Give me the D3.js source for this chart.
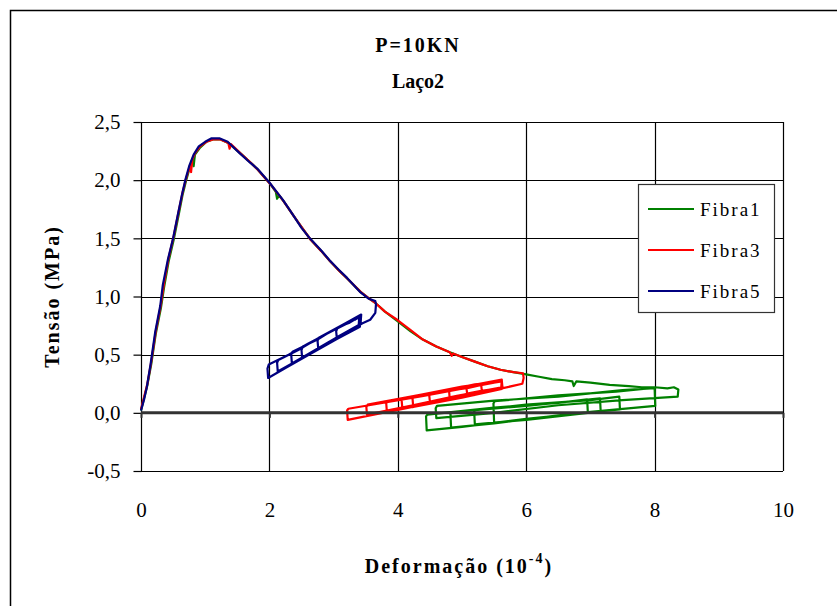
<!DOCTYPE html>
<html>
<head>
<meta charset="utf-8">
<script src="https://cdn.jsdelivr.net/npm/d3@7"></script>
<style>
  body { margin: 0; background: #fff; }
  text { font-family: "Liberation Serif", "Times New Roman", serif; fill: #000; }
</style>
</head>
<body>
<svg id="chart" width="837" height="606"></svg>
<script>
// data (strain in 1e-4, stress in MPa)
var seriesNames = ["Fibra1", "Fibra3", "Fibra5"];
var seriesColors = ["#008000", "#ff0000", "#000080"];
var xTicks = [0, 2, 4, 6, 8, 10];
var yTicks = [-0.5, 0, 0.5, 1, 1.5, 2, 2.5];
var yTickLabels = ["-0,5", "0,0", "0,5", "1,0", "1,5", "2,0", "2,5"];

var fibra1 = [
  [0.00,0.02],[0.05,0.13],[0.10,0.24],[0.16,0.42],[0.23,0.68],[0.31,0.90],[0.36,1.08],[0.43,1.30],
  [0.51,1.49],[0.59,1.71],[0.65,1.88],[0.70,1.99],[0.76,2.11],[0.80,2.18],[0.82,2.12],[0.84,2.22],
  [0.92,2.28],[1.02,2.33],[1.12,2.35],[1.24,2.35],[1.36,2.32],[1.55,2.23],[1.71,2.15],[1.82,2.09],
  [2.01,1.97],[2.10,1.90],[2.12,1.84],[2.15,1.87],[2.22,1.82],[2.38,1.69],[2.51,1.59],[2.64,1.49],
  [2.81,1.39],[2.95,1.30],[3.09,1.22],[3.22,1.15],[3.42,1.04],[3.56,0.98],[3.66,0.94],[3.80,0.87],
  [3.99,0.79],[4.20,0.70],[4.39,0.63],[4.60,0.57],[4.81,0.52],[5.00,0.48],[5.20,0.44],[5.40,0.40],
  [5.60,0.37],[5.80,0.35],[6.00,0.33],[6.20,0.31],[6.40,0.29],[6.60,0.28],[6.72,0.27],[6.74,0.23],
  [6.78,0.27],[7.00,0.26],[7.30,0.24],[7.60,0.23],[7.80,0.22],[8.00,0.22],[8.20,0.21],[8.30,0.22],
  [8.37,0.20],[8.36,0.14],[7.50,0.11],[6.50,0.065],[5.50,0.0],[4.60,-0.045],[4.59,0.04],[4.61,0.06],
  [5.50,0.105],[6.50,0.14],[7.50,0.195],[8.00,0.213],[8.01,0.06],[7.00,0.008],[6.00,-0.057],[5.20,-0.10],
  [5.19,0.01],[5.21,0.025],[6.00,0.07],[7.00,0.11],[7.45,0.14],[7.46,0.03],[6.50,-0.022],[5.50,-0.09],
  [4.83,-0.127],[4.82,-0.01],[4.84,0.005],[6.00,0.06],[7.15,0.125],[7.16,0.012],[6.00,-0.052],[5.00,-0.12],
  [4.45,-0.15],[4.44,-0.03],[4.46,-0.015],[5.50,0.045],[6.50,0.085],[6.95,0.115],[6.96,0.0],[6.00,-0.06],
  [5.50,-0.083],[5.49,0.08],[5.51,0.10],[6.50,0.15],[7.40,0.183],[7.90,0.21]
];

var fibra3 = [
  [0.00,0.03],[0.05,0.14],[0.10,0.25],[0.16,0.44],[0.23,0.70],[0.31,0.93],[0.36,1.12],[0.43,1.33],
  [0.51,1.52],[0.59,1.74],[0.65,1.90],[0.70,2.01],[0.76,2.12],[0.78,2.07],[0.80,2.18],[0.84,2.23],
  [0.92,2.29],[1.02,2.33],[1.12,2.35],[1.24,2.35],[1.36,2.32],[1.38,2.27],[1.40,2.31],[1.55,2.23],
  [1.71,2.15],[1.82,2.09],[2.01,1.97],[2.22,1.82],[2.38,1.69],[2.51,1.59],[2.64,1.49],[2.81,1.39],
  [2.95,1.30],[3.09,1.22],[3.22,1.15],[3.42,1.04],[3.56,0.98],[3.66,0.94],[3.80,0.87],[3.99,0.80],
  [4.20,0.71],[4.39,0.63],[4.60,0.57],[4.81,0.52],[4.84,0.49],[4.86,0.51],[5.00,0.48],[5.20,0.44],
  [5.40,0.40],[5.60,0.37],[5.80,0.35],[5.95,0.34],[5.96,0.30],[5.94,0.25],[5.62,0.21],[5.31,0.18],
  [5.30,0.235],[5.32,0.25],[5.62,0.28],[5.63,0.215],[5.30,0.19],[5.08,0.165],[5.07,0.21],[5.09,0.225],
  [5.40,0.255],[5.62,0.285],[5.61,0.21],[5.20,0.155],[4.81,0.11],[4.80,0.18],[4.82,0.20],[5.20,0.245],
  [5.62,0.27],[5.62,0.22],[5.10,0.165],[4.50,0.095],[4.49,0.15],[4.51,0.17],[5.10,0.215],[5.62,0.28],
  [5.62,0.205],[5.00,0.13],[4.24,0.05],[4.23,0.12],[4.25,0.145],[5.00,0.225],[5.62,0.272],[5.63,0.22],
  [4.90,0.145],[4.07,0.045],[4.06,0.105],[4.08,0.125],[4.90,0.21],[5.62,0.285],[5.62,0.208],[4.80,0.115],
  [3.83,0.005],[3.82,0.08],[3.84,0.10],[4.80,0.20],[5.62,0.27],[5.62,0.218],[4.60,0.105],[3.52,-0.015],
  [3.51,0.05],[3.53,0.07],[4.60,0.18],[5.62,0.283],[5.62,0.21],[4.40,0.07],[3.22,-0.06],[3.21,0.02],
  [3.23,0.035],[4.40,0.145],[5.50,0.26]
];

var fibra5 = [
  [0.00,0.02],[0.05,0.12],[0.09,0.22],[0.15,0.42],[0.22,0.69],[0.30,0.92],[0.34,1.10],[0.42,1.32],
  [0.50,1.50],[0.58,1.72],[0.64,1.88],[0.69,2.00],[0.75,2.12],[0.82,2.22],[0.90,2.29],[1.00,2.33],
  [1.10,2.36],[1.22,2.36],[1.35,2.33],[1.54,2.23],[1.70,2.15],[1.81,2.10],[2.00,1.98],[2.21,1.83],
  [2.37,1.70],[2.50,1.59],[2.63,1.50],[2.80,1.40],[2.94,1.31],[3.08,1.23],[3.21,1.16],[3.41,1.04],
  [3.55,0.98],[3.65,0.96],[3.66,0.93],[3.65,0.86],[3.57,0.80],[3.45,0.77],[3.30,0.725],[3.18,0.68],
  [3.05,0.645],[3.04,0.70],[3.06,0.73],[3.25,0.79],[3.33,0.80],[3.41,0.835],[3.42,0.76],[3.25,0.71],
  [3.10,0.665],[2.93,0.61],[2.76,0.555],[2.75,0.62],[2.77,0.645],[2.95,0.70],[3.10,0.745],[3.25,0.775],
  [3.40,0.825],[3.39,0.745],[3.20,0.69],[3.00,0.625],[2.80,0.56],[2.51,0.47],[2.50,0.54],[2.52,0.57],
  [2.75,0.63],[3.00,0.715],[3.20,0.775],[3.43,0.845],[3.42,0.765],[3.15,0.68],[2.90,0.60],[2.62,0.51],
  [2.35,0.425],[2.34,0.50],[2.36,0.525],[2.60,0.59],[2.90,0.685],[3.15,0.76],[3.40,0.835],[3.40,0.75],
  [3.10,0.655],[2.80,0.565],[2.45,0.455],[2.13,0.355],[2.12,0.43],[2.14,0.455],[2.45,0.54],[2.80,0.655],
  [3.10,0.74],[3.41,0.825],[3.41,0.74],[3.05,0.635],[2.60,0.495],[2.25,0.385],[1.98,0.30],[1.97,0.38],
  [1.99,0.415],[2.30,0.50],[2.60,0.595],[3.00,0.71],[3.38,0.815]
];

var seriesData = [fibra1, fibra3, fibra5];

var svg = d3.select("#chart");
var plotL = 141, plotR = 783, plotT = 122, plotB = 471;

var x = d3.scaleLinear().domain([0, 10]).range([plotL, plotR]);
var y = d3.scaleLinear().domain([-0.5, 2.5]).range([plotB, plotT]);

svg.append("rect").attr("width", 837).attr("height", 606).attr("fill", "#fff");
// outer chart frame (runs off the right/bottom of the picture)
svg.append("rect").attr("x", 10.5).attr("y", 10.5).attr("width", 860).attr("height", 640)
  .attr("fill", "none").attr("stroke", "#000").attr("stroke-width", 1.5);

// titles
svg.append("text").attr("x", 418).attr("y", 52).attr("text-anchor", "middle")
  .style("font-size", "20px").style("font-weight", "bold").style("letter-spacing", "2px").text("P=10KN");
svg.append("text").attr("x", 418).attr("y", 88).attr("text-anchor", "middle")
  .style("font-size", "20px").style("font-weight", "bold").text("Laço2");

// gridlines
svg.append("g").selectAll("line").data(yTicks.filter(d => d !== 0)).join("line")
  .attr("x1", plotL).attr("x2", plotR).attr("y1", d => Math.round(y(d)) + 0.5).attr("y2", d => Math.round(y(d)) + 0.5)
  .attr("stroke", "#000").attr("stroke-width", 1.2);
svg.append("g").selectAll("line").data(xTicks.filter(d => d !== 0)).join("line")
  .attr("x1", d => Math.round(x(d)) + 0.5).attr("x2", d => Math.round(x(d)) + 0.5).attr("y1", plotT).attr("y2", plotB)
  .attr("stroke", "#000").attr("stroke-width", 1.2);

// y axis
var yAxis = svg.append("g").attr("transform", "translate(" + (plotL + 0.5) + ",0)")
  .call(d3.axisLeft(y).tickValues(yTicks).tickSize(8).tickPadding(13)
    .tickFormat((d, i) => yTickLabels[i]));
yAxis.select(".domain").attr("stroke", "#000").attr("stroke-width", 1.2).attr("d", "M0," + plotT + "V" + plotB);
yAxis.selectAll(".tick line").attr("stroke", "#000").attr("stroke-width", 1.2);
yAxis.selectAll("text").style("font-size", "21px").style("font-family", "Liberation Serif");

// x tick labels below the plot
var xLab = svg.append("g").attr("transform", "translate(0," + plotB + ")")
  .call(d3.axisBottom(x).tickValues(xTicks).tickSize(0).tickPadding(31).tickFormat(d3.format("d")));
xLab.select(".domain").remove();
xLab.selectAll("text").style("font-size", "21px").style("font-family", "Liberation Serif");

// series
var line = d3.line().x(d => x(d[0])).y(d => y(d[1]));
svg.append("g").selectAll("path").data(seriesData).join("path")
  .attr("d", line).attr("fill", "none")
  .attr("stroke", (d, i) => seriesColors[i]).attr("stroke-width", 2.2)
  .attr("stroke-linejoin", "round");

// zero axis, drawn thick with small ticks
var zeroAxis = svg.append("g").attr("transform", "translate(0," + y(0) + ")")
  .call(d3.axisBottom(x).tickValues(xTicks).tickSize(5).tickFormat(""));
zeroAxis.select(".domain").attr("stroke", "#333").attr("stroke-width", 3).attr("d", "M" + plotL + ",0H" + plotR);
zeroAxis.selectAll(".tick line").attr("stroke", "#333").attr("stroke-width", 2);

// axis titles
svg.append("text").attr("transform", "translate(59," + y(1) + ") rotate(-90)").attr("text-anchor", "middle")
  .style("font-size", "20px").style("font-weight", "bold").style("letter-spacing", "2px").text("Tensão (MPa)");
var xt = svg.append("text").attr("x", 459).attr("y", 573).attr("text-anchor", "middle")
  .style("font-size", "20px").style("font-weight", "bold").style("letter-spacing", "2px");
xt.append("tspan").text("Deformação (10");
xt.append("tspan").attr("dy", -10).style("font-size", "14px").text("-4");
xt.append("tspan").attr("dy", 10).text(")");

// legend
var lg = svg.append("g").attr("transform", "translate(638,184)");
lg.append("rect").attr("x", 0.5).attr("y", 0.5).attr("width", 136).attr("height", 128)
  .attr("fill", "#fff").attr("stroke", "#333").attr("stroke-width", 1.2);
var item = lg.selectAll(".item").data(seriesNames).join("g").attr("class", "item")
  .attr("transform", (d, i) => "translate(0," + (25 + i * 41) + ")");
item.append("line").attr("x1", 10).attr("x2", 56)
  .attr("stroke", (d, i) => seriesColors[i]).attr("stroke-width", 2);
item.append("text").attr("x", 62).attr("y", 7).style("font-size", "19px").style("letter-spacing", "2px")
  .text(d => d);
</script>
</body>
</html>
